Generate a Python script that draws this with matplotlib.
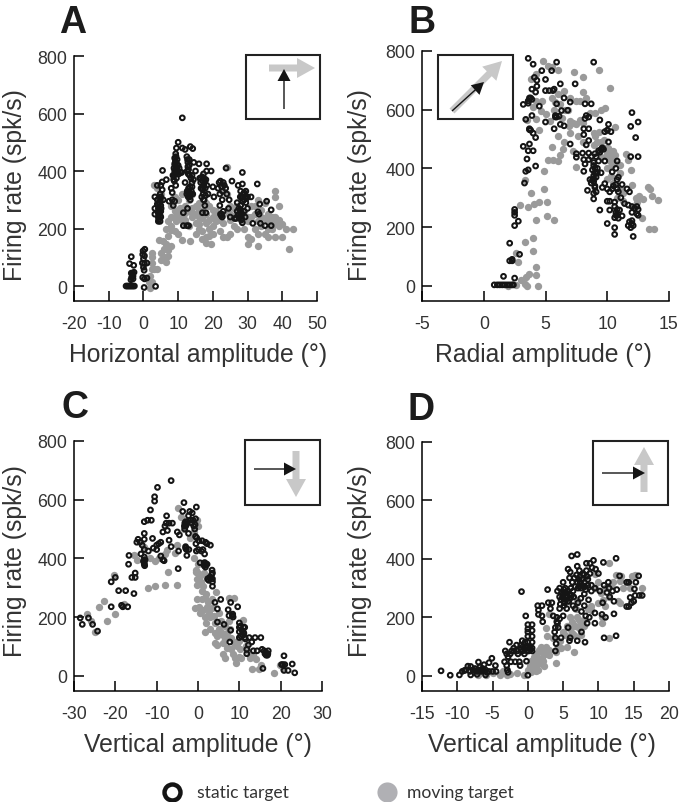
import numpy as np
import matplotlib
matplotlib.use("Agg")
import matplotlib.pyplot as plt
from matplotlib.patches import FancyArrow, Rectangle

W, H = 680, 803
INK = "#333333"
GREY = "#9a9a9a"
ARROW_GREY = "#c8c8c8"

# values, (amplitude, firing rate)
a_static = [(-5,0),(-4.6,0),(-4.2,0),(-3.8,0),(-3.4,0),(-3,0),(-2.6,0),(-4,78),(-3.5,102),(-2.8,72),(-3.5,45),(-3.2,40),
    (-3,35),(-3.4,30),(-3,25),(-2.7,48),(-3.6,22),(-0.1,122),(0.4,128),(-0.2,110),(0.3,105),(0,95),(-0.3,80),(0.3,78),
    (1,80),(0,65),(0.2,55),(-0.2,30),(0.3,25),(1,28),(0.2,-5),(3.3,310),(3.3,270),(3.3,250),(4,350),(4,300),(4,285),
    (4.3,270),(4.2,255),(4.3,240),(4.3,225),(4.8,225),(5,240),(5,260),(5,280),(4.9,300),(5.4,335),(5.5,402),(5.4,362),
    (6.6,370),(4.8,320),(5.7,300),(5,350),(4.5,250),(4.6,265),(4.6,290),(7.4,295),(8,340),(8.3,325),(8.3,300),(8.6,280),
    (9,295),(8.5,385),(8.7,370),(9,400),(9,425),(9,445),(9.3,460),(9.5,480),(9.7,440),(10,420),(9.8,395),(9.5,375),
    (9.3,350),(10,500),(10.3,410),(10.7,395),(11,395),(11.2,585),(11.2,480),(12,475),(12.5,450),(12.8,430),(13,405),
    (13.3,385),(13,340),(12.6,330),(12.5,320),(13.3,310),(13.5,300),(13.8,330),(14,360),(13.5,485),(14.2,478),(14.5,430),
    (15,400),(12,360),(11.5,255),(12.7,270),(13,210),(11.5,210),(12.5,210),(8.8,410),(9.2,390),(9.6,410),(9.4,430),
    (12.8,415),(13.2,440),(14,345),(14.4,370),(13,320),(14.2,320),(16,425),(16.2,375),(16.5,360),(17,340),(17.2,320),
    (17.5,300),(17,255),(17.7,280),(18,255),(18.2,425),(18.2,400),(18,370),(18.3,350),(18.6,320),(19.5,400),(20,345),
    (20.3,310),(16.6,340),(17.4,375),(17.6,360),(17.8,340),(16.8,310),(21.5,340),(22,320),(22,280),(22.5,250),(22.7,300),
    (23,360),(23.3,350),(23.7,340),(23.8,410),(24,320),(24.5,270),(24.7,300),(25,240),(25.5,365),(26.3,235),(26.7,235),
    (22.2,365),(22.8,330),(22.4,245),(27.3,350),(27,290),(27,260),(27.5,250),(28,280),(28.2,310),(28.2,230),(28.5,395),
    (28.5,355),(28.8,320),(29,260),(29,300),(29.3,240),(29.5,330),(30,310),(30,270),(31,310),(28,255),(28.5,220),
    (28,330),(29.5,290),(31.5,218),(32.8,355),(33,258),(33.3,250),(33.5,285),(33.7,218),(35,210),(35.5,295),(36.8,265),(36.8,210),
    (4.4,232),(4.8,245),(4.5,272),(5.1,270),(4.4,290),(5,310),(8.9,385),(9.2,405),(9.5,395),(9.1,420),(9.7,420),(10,400),
    (9.2,435),(9.4,450),(10.2,390),(8.9,365),(12.6,400),(12.9,390),(13.2,420),(12.7,440),(13.1,330),(13.4,345),(12.9,310),
    (13.6,320),(13.7,375),(14,385),(16.5,375),(17,365),(17.4,350),(17.1,335),(17.7,365),(16.9,380),(17.3,390),(17.9,315),
    (17.3,300),(21.8,360),(22.5,345),(22.2,250),(22.7,240),(23,260),(27.2,245),(27.8,240),(28,265),(27.5,270),(28.5,250),
    (28.3,235),(28.7,310),(29,325),(29.3,310),(28.6,295),(27.9,310),(29.7,305),(3.5,-1),(-3.2,38),(-3.1,45)]
a_moving = [(2,-8),(1.5,15),(2.5,15),(2,35),(2.5,60),(2.5,80),(2.5,100),(2.5,115),(3,60),(4,60),(5,90),(5,115),(6,100),
    (6.5,85),(7,105),(4.5,160),(5.5,155),(6.5,145),(6,130),(7,125),(8,140),(7,175),(8,195),(6.5,200),(7,225),(8,240),
    (8,210),(9,190),(9.5,225),(10,180),(11,160),(13.5,155),(10.5,270),(11,250),(12,230),(13,260),(14,240),(13,210),
    (15,220),(16,200),(15,180),(17,190),(18,170),(18,150),(19.5,145),(19,200),(20,210),(21,225),(20,180),(22,190),
    (23,170),(24,170),(25,180),(26,240),(25,280),(24,320),(24,415),(22.5,330),(27,200),(27,280),(29,200),(30,170),
    (30,145),(31,165),(32,200),(33,140),(33,180),(34,210),(35,180),(36,170),(36,250),(37,220),(38,240),(38,170),
    (38,330),(38,310),(39,280),(39,230),(40,215),(40,170),(41,200),(42,130),(43,200),(35,290),(33,300),(31,280),
    (29,260),(27,250),(25,230),(23,250),(21,260),(19,280),(17,260),(15,280),(13,300),(11,320),(9,310),(8,280),
    (10,300),(12,280),(14,320),(16,240),(18,220),(20,240),(22,230),(26,210),(28,230),(30,240),(32,250),(34,240),
    (36,200),(37,200),(3,350),(4,340),(5,320),(9,260),(10,240),(12,255),(14,270),(16,290),(18,290),(32,280),(34,265),(36,225),
    (9,240),(10,265),(11,230),(12,215),(14,255),(15,250),(16,265),(17,235),(18,250),(19,230),(20,265),(21,250),(23,220),
    (24,260),(25,250),(26,270),(30,225),(31,240),(33,225),(35,235),(37,240),(38,215),(39,210),(17,165),(19,175),(16,215)]

b_static = [(3.6,775),(4,755),(4.7,733),(5.5,733),(5.9,762),(8.9,762),(4.1,710),(4.3,700),(5,703),(4.3,680),(3.9,670),
    (4.2,660),(5,665),(5.3,665),(5.6,665),(5.7,670),(6.2,688),(7.4,688),(3.7,640),(3.6,630),(3.9,635),(3.2,618),(3.6,622),
    (4.5,612),(5.9,620),(6.5,640),(6.8,598),(7,626),(6.3,597),(5.8,580),(5.9,575),(6.1,578),(3.4,567),(3.9,580),(5,558),
    (6.2,550),(6.5,545),(5.7,535),(3.7,532),(3.8,530),(4,520),(4.2,505),(3.2,475),(3.7,483),(3.6,460),(4,460),(3.5,432),
    (3.4,390),(3.6,395),(4.2,408),(3.3,350),(7,483),(7.5,450),(7.5,438),(8,452),(8.5,452),(8.1,515),(8.1,535),(8.2,570),
    (8.3,580),(8.5,575),(8.2,620),(8.7,620),(8.5,535),(8.5,495),(8.3,480),(8.7,440),(8.1,430),(8.2,415),(8.5,430),(8.9,420),
    (9.3,460),(9.5,465),(9.7,465),(9,450),(9.4,565),(10.1,550),(9.8,525),(10,530),(10.3,525),(10.1,490),(9.8,425),(8.1,390),
    (8.8,395),(9,400),(9.2,385),(8.9,375),(8.6,362),(8.8,360),(9.5,385),(9,340),(9,335),(9.6,335),(9.8,348),(10,330),
    (10.4,330),(10.8,330),(8.4,325),(8.9,315),(9.1,320),(8.9,296),(10.4,388),(10.7,400),(10.8,425),(10.8,362),(10.9,370),
    (10.7,345),(11.2,345),(11.6,330),(11.8,320),(11.1,300),(10.2,320),(10.0,288),(10.2,288),(10.6,285),(9.4,258),(10.2,258),
    (10.6,270),(10.7,250),(11,258),(10.8,240),(10.9,230),(11.2,238),(10,212),(10.6,198),(10.6,175),(11.4,280),(11.7,275),
    (12,270),(12.4,270),(12.5,260),(12,250),(12.4,245),(12.5,240),(11.8,218),(12,212),(11.7,205),(11.9,198),(12.1,168),
    (12,590),(11.9,543),(12.5,558),(12.3,505),(11.9,440),(12.5,440),(2.1,145),(2.5,205),(2.8,220),(2.5,260),(2.5,250),
    (2.5,240),(2.9,107),(2.1,85),(2.3,85),(2.3,90),(1.6,32),(2.5,26),(0.85,3),(1.1,3),(1.3,3),(1.5,3),(1.7,3),(1.9,3),
    (2.1,3),(2.3,3),(2.4,3),(8.9,410),(9,385),(9.1,370),(8.9,355),(9.2,400),(9.3,425),(9.1,440),(9.6,470),(9.4,455),
    (8.9,365),(8.7,350),(10.5,340),(10.9,320),(10.7,240),(10.8,260),(10.6,232),(12.1,205),(12,222),(12.2,265),(5.8,575),
    (3.8,640),(3.7,535)]
b_moving = [(4.8,765),(5.2,750),(5.5,745),(6,735),(3.8,705),(4.2,720),(7.3,730),(8,712),(9.3,735),(10.2,675),(6.5,665),
    (7,640),(5.5,640),(4.7,628),(4.2,630),(5,585),(6.2,620),(6.8,600),(7,560),(7.5,630),(7.8,630),(8,660),(8.3,640),
    (7.2,555),(7.5,550),(8,555),(7.8,565),(8.6,590),(9,590),(9.5,600),(9.8,605),(10,530),(10.6,540),(9.5,490),(9.8,470),
    (10,450),(10.3,440),(10.6,420),(10.5,460),(10,400),(10.3,375),(11,410),(11.5,450),(11.7,430),(11.9,395),(12,345),
    (12.3,300),(12.6,305),(13.3,335),(13.5,330),(13.6,305),(14.1,292),(13.4,195),(13.8,195),(12.8,232),(5.5,473),(5.2,428),
    (5.6,428),(6,425),(6.2,445),(6.4,465),(4.9,390),(4.9,330),(3.8,315),(3.3,360),(2.9,275),(3.6,268),(4.1,278),(4.5,285),
    (5.1,285),(5.1,238),(4.2,225),(5.7,224),(3.3,148),(4,163),(4,118),(2.6,110),(2.8,80),(4.2,65),(3.7,40),(3.4,30),
    (4.2,38),(3,20),(3.3,5),(2.6,3),(4.4,-2),(3.5,0),(2,0),(5.4,560),(6,510),(6.5,490),(7,520),(7.5,405),(7.2,460),(8,490),
    (5.7,600),(6.3,570),(9,510),(9.3,525),(9.2,490),(10.8,300),(11.3,290),(10,365),(10.5,350),(9.5,440),(11,385),(3.5,565),
    (4.2,568),(4.5,530),(10.1,440),(10.2,425),(10.4,410),(10.1,470),(10.6,445),(9.7,495),(10.3,460),(6.6,600),(6,655),
    (5.8,625),(6.9,545),(7.6,510),(8.9,520),(8.9,480),(12.9,295),(12.4,285),(11.3,315),(11,330),(4.6,595),(4,610)]

c_static = [(-28.5,197),(-28,175),(-26.5,197),(-25.5,175),(-24.3,152),(-21,235),(-18.5,240),(-18.2,235),(-17,235),(-21,320),
    (-20,335),(-19.2,290),(-17.5,290),(-16,335),(-15.2,335),(-15.2,350),(-15.5,280),(-16.8,380),(-16.7,410),(-14.8,455),
    (-14.5,465),(-14,455),(-13.8,415),(-13.5,445),(-13,430),(-13,395),(-13,385),(-13,380),(-13,405),(-13,485),(-13,465),
    (-13,525),(-12.2,530),(-11.3,530),(-11.5,565),(-10.5,595),(-10.5,610),(-9.8,642),(-6.5,665),(-11,468),(-12,425),
    (-10.8,435),(-10,445),(-9.5,450),(-9,455),(-10,430),(-9,408),(-8.5,395),(-8.2,392),(-8.5,490),(-8,510),(-7.7,520),
    (-7.6,545),(-7.4,495),(-7,520),(-6.2,520),(-7,462),(-6.5,440),(-5,490),(-4.5,480),(-4.7,425),(-4.8,365),(-3.7,560),
    (-3.4,590),(-3.2,520),(-3,510),(-3.2,500),(-3,435),(-2.8,430),(-2.7,410),(-2.2,430),(-2.3,485),(-2.3,545),(-2,560),
    (-1.8,530),(-1.4,555),(-1.2,530),(-1,510),(-0.8,500),(-0.6,535),(-0.4,575),(-0.6,475),(-0.5,450),(-0.4,425),(0.2,460),
    (0.8,425),(0.5,385),(1,460),(1.2,430),(1.6,415),(1.8,455),(1.5,385),(1.5,375),(1.8,370),(2.2,450),(3,445),(2.3,330),
    (2.6,325),(3.4,360),(3.5,350),(3.5,330),(3.5,320),(3.5,305),(4.1,250),(4.7,228),(4.7,183),(5.5,260),(6.3,175),(7.3,225),
    (7.5,205),(7.7,115),(7.9,155),(7.9,250),(8.4,210),(8.5,200),(9.6,235),(10,180),(10,165),(10,150),(10,130),(10.7,140),
    (11,165),(11.3,165),(11.3,130),(11.5,125),(11.8,90),(11.8,75),(12.2,105),(12.4,130),(13,115),(13.4,85),(13.8,130),
    (14.3,85),(15.2,130),(15.5,90),(16,85),(16.2,75),(16.5,70),(16.8,70),(17,85),(15.7,25),(20.2,38),(20.5,38),(20.8,68),
    (21,38),(20.8,18),(21.8,18),(22.8,40),(23.4,10),(-3,525),(-2.8,515),(-3.3,510),(-2.6,525),(-1.5,520),(-0.7,515),
    (-13.2,390),(-12.8,395),(-12.9,375),(-0.3,470),(0.1,430),(1.7,385),(1.9,380),(2.2,380),(3.1,335),(3.3,345),(2.8,335),
    (10.3,170),(10.6,155),(10.9,150),(11.1,145),(10.4,135),(16.4,80),(16.9,75),(-3,440),(8.3,205)]
c_moving = [(-26.8,210),(-25.8,185),(-24.8,150),(-24,235),(-22.8,255),(-22,185),(-20.3,345),(-20,210),(-18,245),(-15.5,410),
    (-14.8,395),(-13,440),(-12,300),(-11.5,400),(-10.5,305),(-10.5,390),(-9.5,400),(-8,415),(-8,308),(-7.5,430),(-7.3,352),
    (-5.5,420),(-5,308),(-5,445),(-4.8,570),(-4,540),(-3.5,500),(-2,470),(-1,490),(-0.3,530),(0,510),(-1,400),(-0.6,355),
    (-0.3,330),(-0.2,310),(0,350),(0.5,340),(1,290),(1.3,305),(1.5,350),(-0.8,232),(-0.3,260),(0.2,235),(0.5,215),(1,260),
    (1.2,225),(1.8,200),(2,280),(2.5,250),(2.6,215),(3,200),(3.5,260),(4.4,285),(1.8,150),(4,180),(4.2,145),(4,110),(4.5,105),
    (5.5,150),(6,110),(6,75),(6.5,60),(7,145),(7.5,185),(7.5,265),(8.8,265),(8,90),(8.5,75),(9,60),(9.3,45),(9.8,65),
    (10.2,90),(11,190),(10.5,60),(11.5,100),(12,85),(12.5,60),(13,22),(14,58),(14.8,22),(15.2,37),(18.3,8),(19.8,35),
    (20.5,25),(8,130),(9,115),(6.5,170),(3,160),(5,215),(2,180),(0,380),(-0.4,360),(0.8,320),(0,330),(1.8,265),(2.2,235),
    (3.3,230),(3.9,205),(5,160),(6,140),(6.6,125),(7,95),(7.8,160),(8.7,110),(9.5,100),(10,120),(4.7,135),(5.5,185),(13.2,70)]

d_static = [(-12.3,17),(-11,2),(-9.7,3),(-9.3,15),(-9,18),(-8.8,20),(-8.5,33),(-8.1,3),(-8.1,32),(-7.8,20),(-7.5,18),(-7.2,5),
    (-7,20),(-7,47),(-6.8,30),(-6.6,15),(-6.4,25),(-6.2,38),(-6,3),(-5.8,12),(-5.5,45),(-5.1,60),(-5,15),(-4.6,35),(-4.5,15),
    (-3.3,48),(-3,35),(-2.9,20),(-2.8,12),(-3.2,85),(-3,75),(-2.8,65),(-2.6,115),(-2.3,85),(-2.4,48),(-2,95),(-1.6,105),
    (-1.8,48),(-1.4,75),(-1.2,48),(-1.1,35),(-1,90),(-0.9,288),(-0.8,120),(-0.7,100),(-0.5,75),(-0.4,115),(-0.3,100),
    (-0.1,85),(-0.2,50),(0,100),(0.1,85),(-0.3,205),(0,175),(0,160),(0,150),(0,135),(0.6,175),(0.6,155),(0.6,135),(0.6,115),
    (0.6,95),(0.6,85),(0,2),(1.4,240),(1.5,225),(1.5,210),(2,240),(2,205),(2.1,185),(2.8,295),(2.9,250),(3.2,230),(3.4,250),
    (3.6,205),(3.8,150),(3.9,130),(4,110),(3.9,85),(4.1,200),(4.2,180),(4.3,165),(4.2,290),(4.5,300),(4.5,270),(4.5,230),
    (4.7,260),(5,320),(5,280),(5,205),(4.7,130),(5.2,250),(5.3,300),(5.3,270),(5.5,230),(5.7,290),(5.7,365),(6,355),(5.9,335),
    (6,265),(5.7,165),(5.9,120),(6,130),(6.2,410),(6.4,290),(6.4,240),(6.7,305),(6.7,230),(7,415),(7,375),(7,320),(7.1,250),
    (7,120),(7.3,360),(7.4,340),(7.5,300),(7.5,265),(7.6,220),(7.6,150),(7.8,350),(8,320),(8,280),(8,240),(8.1,115),(8.2,205),
    (8.3,385),(8.3,360),(8.5,330),(8.6,260),(8.4,180),(8.7,200),(8.8,385),(9,310),(9,290),(9.1,370),(9.3,395),(9.5,180),
    (9.5,300),(9.6,365),(9.5,215),(10,350),(10.2,290),(10.5,210),(10.6,250),(10.8,310),(10.7,388),(10.8,130),(11.2,285),
    (11,200),(11.4,320),(11.5,300),(11.6,270),(12,290),(12.2,255),(12.2,212),(12.5,137),(12.5,402),(12.6,295),(13,342),
    (14,320),(14.3,320),(14,237),(14.3,237),(14.5,268),(14.7,250),(15,255),(15.1,297),(15.2,275),(15.3,320),(15.7,342),
    (15.8,275),(16.2,275),(4.8,285),(5.1,295),(5.4,285),(5.6,270),(5.8,255),(6.1,300),(6.3,320),(6.6,335),(6.9,345),(7.2,330),
    (7.7,310),(8.2,295),(8.4,340),(8.8,350),(4.6,245),(5,265),(4.9,270),(5.2,285),(5.5,275),(5.7,255),(5.4,260),(5.1,240),
    (5.9,280),(6.2,275),(6.5,270),(7.1,300),(7.4,320),(7.7,330),(7.9,345),(8.1,305),(8.5,310),(7.3,305),(-0.2,95),(-0.4,90),
    (0.3,100),(0.4,90),(-0.7,85),(-1,105),(0,115),(-7.2,15),(-6.8,18),(-6.5,20),(-6,20),(-5.5,15),(-7.5,25),(-8.2,15),
    (-2.5,75),(-2,85),(-1.5,85),(4.1,185),(4.5,195),(3.9,165)]
d_moving = [(-7,3),(-6,3),(-5,10),(-4,3),(-3.5,15),(-3,3),(-2.5,5),(-1.5,10),(-0.5,3),(0,20),(0.5,12),(1.2,15),(0.5,50),(1,30),
    (1.5,60),(2,80),(2.2,50),(2.3,35),(1.2,75),(1.8,100),(2.5,100),(3,70),(3,90),(2.7,135),(3.5,130),(4,45),(4,80),(4.3,100),
    (5.5,100),(5.3,140),(5.5,170),(6,200),(6.5,80),(6.7,170),(2.6,165),(3,210),(6.8,230),(7.2,190),(7.5,140),(7.5,180),(8,190),
    (8.5,230),(9,240),(9.5,300),(10,320),(10.5,200),(10.5,180),(10.7,260),(11,300),(11.5,130),(11.5,385),(11.8,310),(12.5,345),
    (12.8,255),(13,250),(13.5,300),(14,320),(14.7,340),(15.2,345),(16.2,300),(10,250),(9.5,350),(7,260),(6.5,140),(5,150),(4.5,120),
    (0.8,65),(1.5,40),(1.6,90),(2,60),(2.4,75),(1,45),(0.3,35),(1.5,20),(6,160),(6.3,185),(6.9,200),(7.3,165),(6.2,145),(4.7,95),
    (11,240),(11.5,270),(12,320),(13,325),(13.2,340),(14.5,300),(8,170),(9,225),(10.3,285)]

y_ticks = [0, 200, 400, 600, 800]
a_ticks = [-20, -10, 0, 10, 20, 30, 40, 50]
b_ticks = [-5, 0, 5, 10, 15]
c_ticks = [-30, -20, -10, 0, 10, 20, 30]
d_ticks = [-15, -10, -5, 0, 5, 10, 15, 20]

plt.rcParams["font.family"] = ["Liberation Sans", "DejaVu Sans"]
plt.rcParams["axes.unicode_minus"] = False
fig = plt.figure(figsize=(W / 100, H / 100), dpi=100)


def panel(box, xlim, xticks, static, moving):
    # box is left, right, top, bottom of the axes in pixels
    l, r, t, b = box
    ax = fig.add_axes([l / W, 1 - b / H, (r - l) / W, (b - t) / H])
    m = np.array(moving)
    s = np.array(static)
    ax.scatter(m[:, 0], m[:, 1], s=28, color=GREY, lw=0, clip_on=False, zorder=2)
    ax.scatter(s[:, 0], s[:, 1], s=11.5, facecolor="none", edgecolor="#151515", lw=1.45, clip_on=False, zorder=3)
    ax.set_xlim(xlim)
    ax.set_ylim(-52, 800)
    ax.set_xticks(xticks)
    ax.set_yticks(y_ticks)
    ax.tick_params(axis="x", direction="in", length=7, width=1.1, pad=10, labelsize=12.8, labelcolor=INK)
    ax.tick_params(axis="y", direction="in", length=7, width=1.1, pad=5, labelsize=12.8, labelcolor=INK)
    ax.spines[["top", "right"]].set_visible(False)
    ax.spines[["left", "bottom"]].set_linewidth(1.1)
    ax.patch.set_alpha(0)
    return ax


panel((74, 317, 57, 302), (-20, 50), a_ticks, a_static, a_moving)
panel((422, 669, 52, 302), (-5, 15), b_ticks, b_static, b_moving)
panel((74, 322, 442, 692), (-30, 30), c_ticks, c_static, c_moving)
panel((422, 669, 443, 692), (-15, 20), d_ticks, d_static, d_moving)

# overlay in pixel coordinates for labels, inset boxes and the legend
ov = fig.add_axes([0, 0, 1, 1], zorder=5)
ov.set_xlim(0, W)
ov.set_ylim(H, 0)
ov.axis("off")

for letter, x, y in [("A", 73, 33), ("B", 422, 33), ("C", 75, 418), ("D", 421, 420)]:
    ov.text(x, y, letter, fontsize=27, fontweight="bold", color="#1c1c1c", ha="center", va="baseline")

for label, x, y in [("Horizontal amplitude (°)", 198, 355), ("Radial amplitude (°)", 543, 355),
                    ("Vertical amplitude (°)", 198, 745), ("Vertical amplitude (°)", 542, 745)]:
    ov.text(x, y, label, fontsize=17.8, color=INK, ha="center", va="center")
for x, y in [(15, 185), (360, 185), (15, 561), (360, 561)]:
    ov.text(x, y, "Firing rate (spk/s)", fontsize=17.8, color=INK, rotation=90, ha="center", va="center")


def inset(x0, y0, x1, y1, grey, black):
    ov.add_patch(Rectangle((x0, y0), x1 - x0, y1 - y0, fc="white", ec="#222222", lw=1.5, zorder=1))
    gx, gy, gdx, gdy = grey
    ov.add_patch(FancyArrow(gx, gy, gdx, gdy, width=7, head_width=20, head_length=18,
                            length_includes_head=True, color=ARROW_GREY, lw=0, zorder=2))
    bx, by, bdx, bdy = black
    ov.add_patch(FancyArrow(bx, by, bdx, bdy, width=1.4, head_width=13, head_length=12,
                            length_includes_head=True, color="#151515", lw=0, zorder=3))


inset(246, 56, 320, 120, (269, 69, 46, 0), (284, 110, 0, -40))
inset(438, 56, 513, 120, (452, 112, 50, -50), (452, 112, 32, -29))
inset(245, 441, 320, 506, (296, 452, 0, 46), (254, 470, 42, 0))
inset(593, 442, 668, 506, (644, 493, 0, -45), (602, 474, 43, 0))

ov.plot([172], [793], "o", ms=11.5, mfc="white", mec="#151515", mew=3.2)
ov.plot([387], [793], "o", ms=14.5, mfc="#b0b0b4", mec="none")
ov.text(197, 793, "static target", fontsize=12.6, family="Lato", color=INK, va="center")
ov.text(407, 793, "moving target", fontsize=12.6, family="Lato", color=INK, va="center")

fig.savefig("out.png", dpi=100)
